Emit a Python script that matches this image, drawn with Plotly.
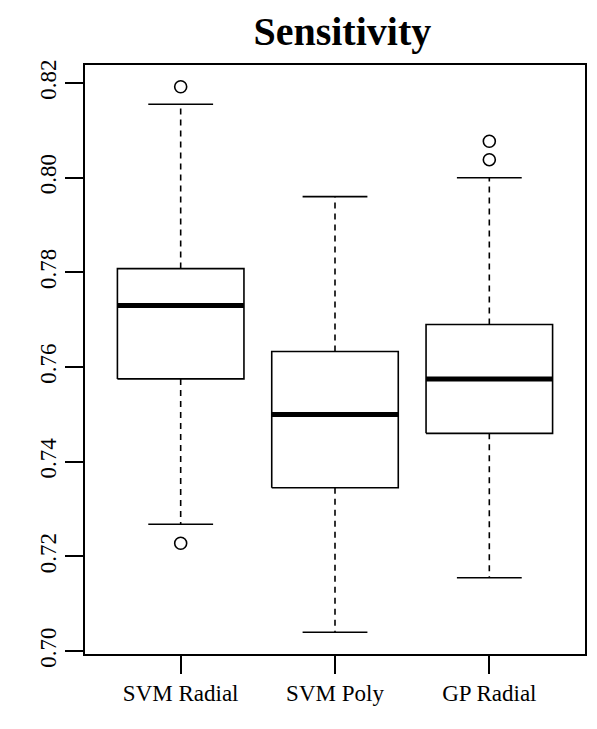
import plotly.graph_objects as go

# data
labels = ["SVM Radial", "SVM Poly", "GP Radial"]
q1 = [0.7575, 0.7345, 0.746]
median = [0.773, 0.750, 0.7575]
q3 = [0.7808, 0.7633, 0.769]
lower = [0.7268, 0.704, 0.7155]
upper = [0.8155, 0.796, 0.800]
outliers = [[0.8192, 0.7228], [], [0.8077, 0.8038]]

half = 0.41   # box half width
cap = 0.21    # whisker cap half width
line = dict(color="black", width=1.6)

fig = go.Figure()
for i, name in enumerate(labels):
    x = i + 1
    # box
    fig.add_trace(go.Scatter(x=[x - half, x + half, x + half, x - half, x - half],
                             y=[q1[i], q1[i], q3[i], q3[i], q1[i]],
                             mode="lines", line=line))
    # median
    fig.add_trace(go.Scatter(x=[x - half, x + half], y=[median[i], median[i]],
                             mode="lines", line=dict(color="black", width=5)))
    # dashed whiskers
    for a, b in [(q3[i], upper[i]), (q1[i], lower[i])]:
        fig.add_trace(go.Scatter(x=[x, x], y=[a, b], mode="lines",
                                 line=dict(color="black", width=1.6, dash="6px,5px")))
    # caps
    for v in [upper[i], lower[i]]:
        fig.add_trace(go.Scatter(x=[x - cap, x + cap], y=[v, v], mode="lines", line=line))
    if outliers[i]:
        fig.add_trace(go.Scatter(x=[x] * len(outliers[i]), y=outliers[i], mode="markers",
                                 marker=dict(symbol="circle-open", size=12,
                                             color="black", line=dict(width=1.6))))

font = dict(family="Liberation Serif, Times New Roman, serif", color="black")
fig.update_layout(
    width=597, height=729,
    margin=dict(l=77, r=20, t=57, b=83),
    showlegend=False,
    plot_bgcolor="white", paper_bgcolor="white",
    font=dict(size=23, **font),
    title=dict(text="<b>Sensitivity</b>", x=0.56, xanchor="center", y=0.988, yanchor="top",
               font=dict(size=40, **font)),
)
fig.update_xaxes(range=[0.38, 3.62], tickvals=[1, 2, 3], ticktext=labels,
                 showgrid=False, zeroline=False, showline=True, mirror=True,
                 linecolor="black", linewidth=1.6, ticks="outside", ticklen=18,
                 tickwidth=1.6, tickcolor="black", tickfont=dict(size=23))
fig.update_yaxes(range=[0.6994, 0.8238], tickvals=[0.70, 0.72, 0.74, 0.76, 0.78, 0.80, 0.82],
                 tickformat=".2f", tickangle=-90,
                 showgrid=False, zeroline=False, showline=True, mirror=True,
                 linecolor="black", linewidth=1.6, ticks="outside", ticklen=18,
                 tickwidth=1.6, tickcolor="black", tickfont=dict(size=23))

fig.write_html("out.html")
